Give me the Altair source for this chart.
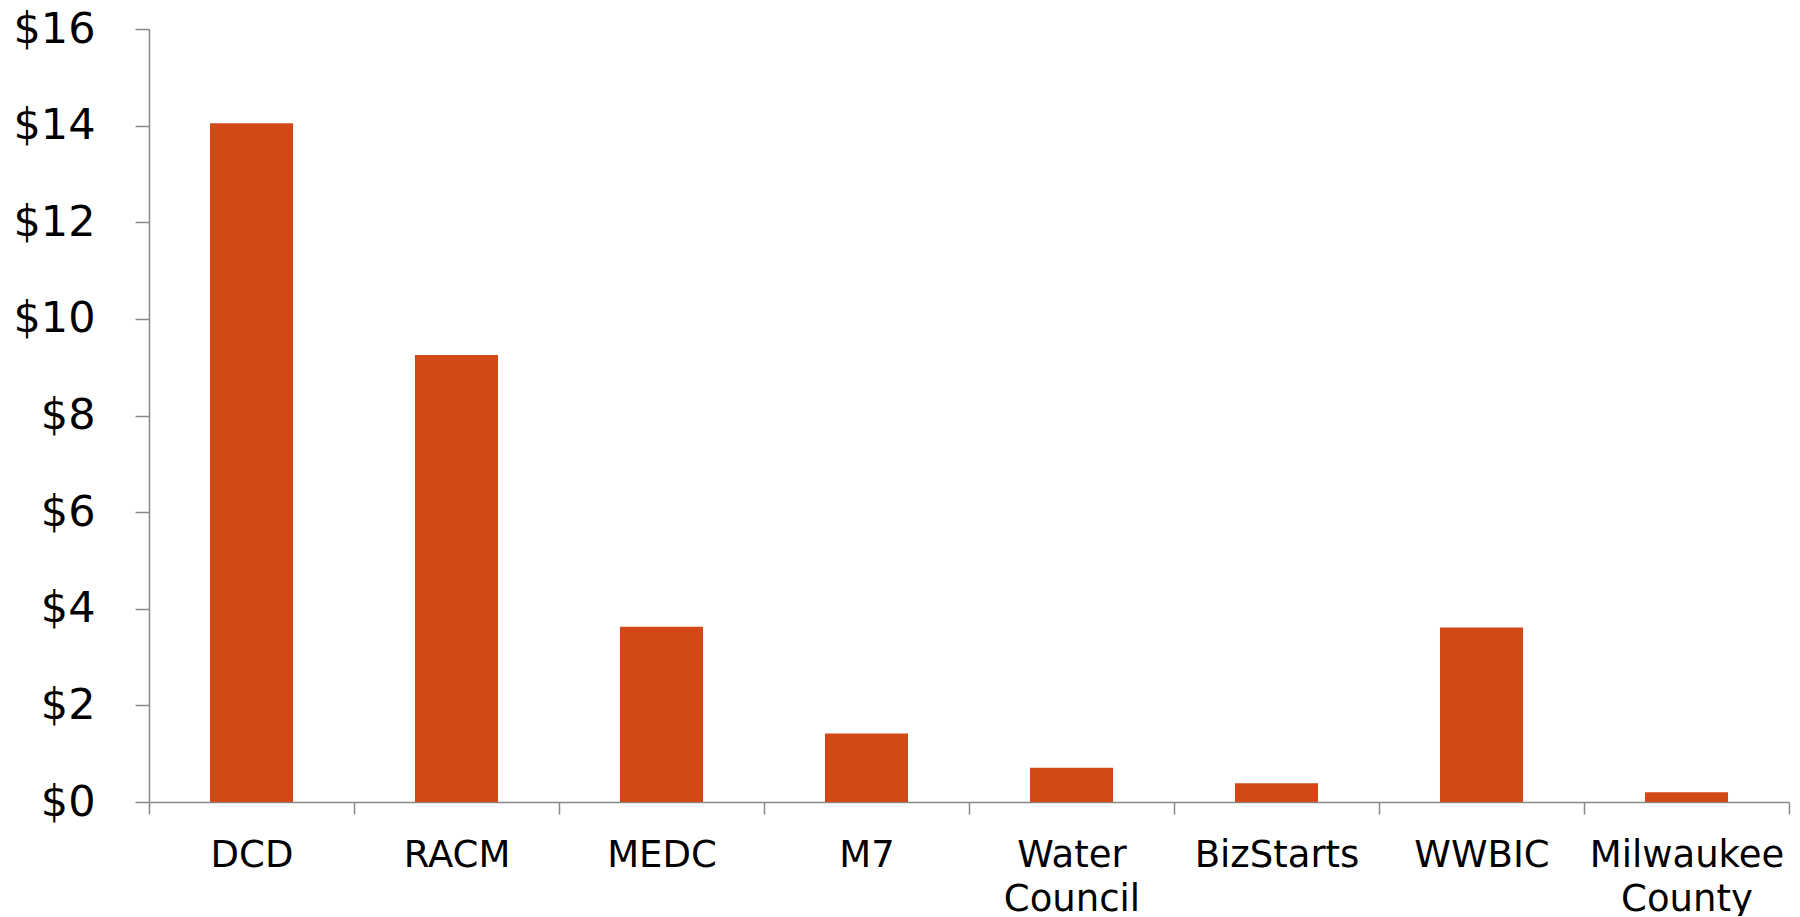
import altair as alt
import pandas as pd

categories = ["DCD", "RACM", "MEDC", "M7", "Water Council", "BizStarts", "WWBIC", "Milwaukee County"]
values = [14.05, 9.25, 3.63, 1.42, 0.71, 0.39, 3.61, 0.20]
y_ticks = [0, 2, 4, 6, 8, 10, 12, 14, 16]

df = pd.DataFrame({"org": categories, "amount": values})

chart = alt.Chart(df).mark_bar(color="#D34817", width=alt.RelativeBandSize(0.405)).encode(
    x=alt.X("org:N", sort=categories, title=None,
            scale=alt.Scale(paddingInner=0, paddingOuter=0),
            axis=alt.Axis(labelAngle=0, tickBand="extent", labelExpr="split(datum.label, ' ')",
                          labelFont="DejaVu Sans", labelFontSize=37, labelColor="#000000",
                          labelLineHeight=44, labelPadding=23, tickSize=12, labelLimit=0,
                          domainColor="#888888", tickColor="#888888", domainWidth=1.5, tickWidth=1.5)),
    y=alt.Y("amount:Q", title=None,
            scale=alt.Scale(domain=[0, 16], nice=False),
            axis=alt.Axis(values=y_ticks, labelExpr="'$' + datum.value", grid=False,
                          labelFont="DejaVu Sans", labelFontSize=43, labelColor="#000000",
                          labelPadding=40, tickSize=14,
                          domainColor="#888888", tickColor="#888888", domainWidth=1.5, tickWidth=1.5)),
).properties(
    width=1640, height=773,
    autosize=alt.AutoSizeParams(type="none"),
    padding={"left": 141, "top": 21, "right": 2, "bottom": 114},
).configure_view(stroke=None)

chart.save("out.html", embed_options={"renderer": "svg", "actions": False})
